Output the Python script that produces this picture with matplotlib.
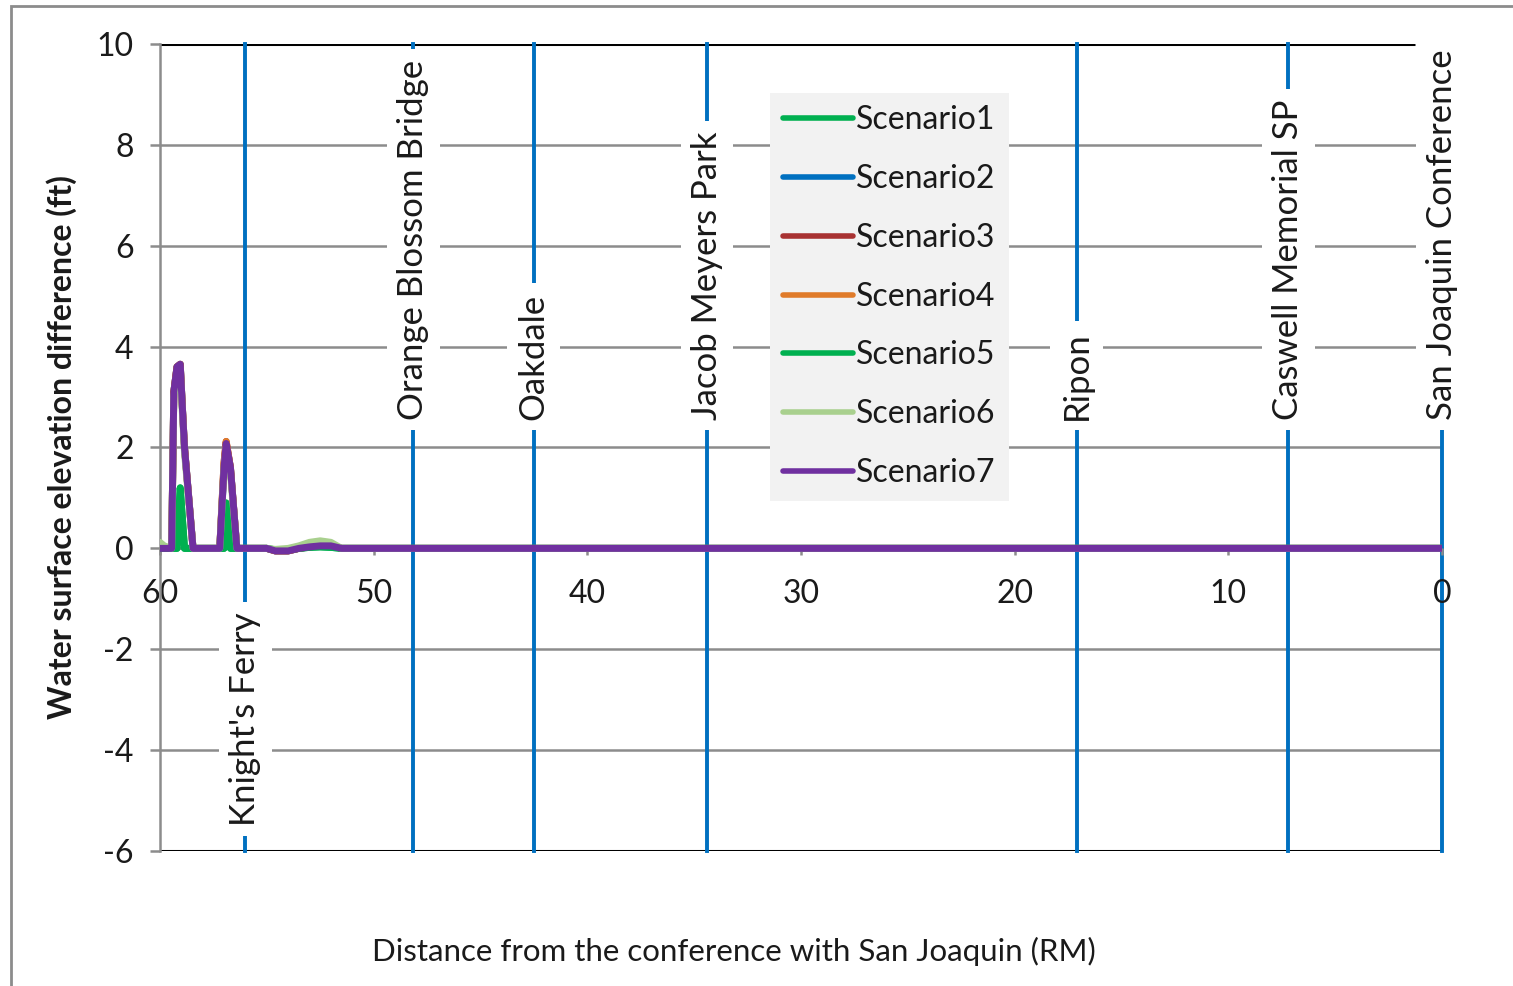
import numpy as np
import matplotlib
matplotlib.use("Agg")
import matplotlib.pyplot as plt
from matplotlib.patches import Rectangle

plt.rcParams['font.family'] = ['Lato', 'DejaVu Sans']
plt.rcParams['axes.unicode_minus'] = False

# river mile (distance from the confluence), shared by all scenarios
river_mile = [60.0, 59.8, 59.45, 59.35, 59.2, 59.05, 58.95, 58.85, 58.45, 58.0,
              57.5, 57.2, 57.0, 56.9, 56.7, 56.4, 56.0, 55.0, 54.6, 54.0,
              53.5, 53.0, 52.5, 52.0, 51.5, 40.0, 20.0, 0.0]

scenario1 = [0.0, 0.0, 0.0, 0.0, 0.0, 1.2, 0.6, 0.0, 0.0, 0.0,
             0.0, 0.0, 0.0, 0.9, 0.0, 0.0, 0.0, 0.0, -0.03, -0.03,
             0.0, 0.02, 0.03, 0.02, 0.0, 0.0, 0.0, 0.0]
scenario2 = [0.0, 0.0, 0.0, 3.1, 3.6, 3.65, 2.8, 2.0, 0.0, 0.0,
             0.0, 0.0, 1.6, 2.08, 1.6, 0.0, 0.0, 0.0, -0.05, -0.05,
             0.0, 0.03, 0.05, 0.05, 0.0, 0.0, 0.0, 0.0]
scenario3 = [0.0, 0.0, 0.0, 3.1, 3.6, 3.65, 2.8, 2.0, 0.0, 0.0,
             0.0, 0.0, 1.7, 2.12, 1.6, 0.0, 0.0, 0.0, -0.05, -0.05,
             0.0, 0.03, 0.05, 0.05, 0.0, 0.0, 0.0, 0.0]
scenario4 = [0.0, 0.0, 0.0, 3.1, 3.6, 3.65, 2.8, 2.0, 0.0, 0.0,
             0.0, 0.0, 1.7, 2.12, 1.6, 0.0, 0.0, 0.0, -0.05, -0.05,
             0.0, 0.03, 0.05, 0.05, 0.0, 0.0, 0.0, 0.0]
scenario5 = [0.0, 0.0, 0.0, 0.0, 0.0, 1.2, 0.6, 0.0, 0.0, 0.0,
             0.0, 0.0, 0.0, 0.9, 0.0, 0.0, 0.0, 0.0, -0.03, -0.03,
             0.0, 0.02, 0.03, 0.02, 0.0, 0.0, 0.0, 0.0]
scenario6 = [0.12, 0.05, 0.0, 3.0, 3.5, 3.55, 2.7, 1.9, 0.0, 0.0,
             0.0, 0.0, 1.6, 2.0, 1.5, 0.0, 0.0, 0.0, -0.02, 0.0,
             0.05, 0.12, 0.15, 0.12, 0.0, 0.0, 0.0, 0.0]
scenario7 = [0.0, 0.0, 0.0, 3.1, 3.6, 3.65, 2.8, 2.0, 0.0, 0.0,
             0.0, 0.0, 1.6, 2.08, 1.6, 0.0, 0.0, 0.0, -0.05, -0.05,
             0.0, 0.03, 0.05, 0.05, 0.0, 0.0, 0.0, 0.0]

scenario_names = ['Scenario1', 'Scenario2', 'Scenario3', 'Scenario4',
                  'Scenario5', 'Scenario6', 'Scenario7']
scenario_colors = ['#00b050', '#0070c0', '#a83232', '#e07b2a',
                   '#00b050', '#a9d08e', '#7030a0']

# landmarks along the river and where their labels sit
landmark_names = ["Knight's Ferry", 'Orange Blossom Bridge', 'Oakdale',
                  'Jacob Meyers Park', 'Ripon', 'Caswell Memorial SP',
                  'San Joaquin Conference']
landmark_rm = [56.0, 48.15, 42.5, 34.4, 17.1, 7.2, 0.0]
landmark_label_y = [-5.5, 2.55, 2.55, 2.55, 2.55, 2.55, 2.55]

x_ticks = [60, 50, 40, 30, 20, 10, 0]
y_ticks = [-6, -4, -2, 0, 2, 4, 6, 8, 10]

text_color = '#1a1a1a'
grid_color = '#8c8c8c'

fig = plt.figure(figsize=(15.13, 9.86), dpi=100)
ax = fig.add_axes([0.1057, 0.1369, 0.8474, 0.8185])

ax.set_xlim(60, 0)
ax.set_ylim(-6, 10)

# gridlines (manual so they sit under the landmark lines)
for yv in y_ticks:
    if yv in (-6, 10):
        continue
    ax.axhline(yv, color=grid_color, lw=1.8, zorder=0.5)
ax.hlines(10, 60, 1.25, color='black', lw=2.2, zorder=0.6)
ax.axhline(-6, color='black', lw=2.2, zorder=0.6)

# landmark lines and labels
for name, rm, ly in zip(landmark_names, landmark_rm, landmark_label_y):
    ax.axvline(rm, color='#0070c0', lw=2.8, zorder=1, clip_on=False)
    ax.text(rm, ly, name, rotation=90, ha='center', va='bottom',
            fontsize=25, color=text_color, zorder=1.2,
            bbox=dict(boxstyle='square,pad=0.3', fc='white', ec='none'))

series = [scenario1, scenario2, scenario3, scenario4,
          scenario5, scenario6, scenario7]
for name, col, ys in zip(scenario_names, scenario_colors, series):
    ax.plot(river_mile, ys, color=col, lw=5, label=name, zorder=3,
            solid_joinstyle='round', solid_capstyle='round')

# axes styling
for side in ('top', 'right'):
    ax.spines[side].set_visible(False)
ax.spines['left'].set_color(grid_color)
ax.spines['left'].set_linewidth(1.8)
ax.spines['bottom'].set_position(('data', 0))
ax.spines['bottom'].set_color(grid_color)
ax.spines['bottom'].set_linewidth(1.8)
ax.spines['bottom'].set_zorder(0.5)

ax.set_xticks(x_ticks)
ax.set_yticks(y_ticks)
ax.tick_params(axis='y', direction='out', length=7, width=1.8,
               color=grid_color, labelsize=23, labelcolor=text_color, pad=12)
ax.tick_params(axis='x', direction='out', length=5, width=1.8,
               color=grid_color, labelsize=23, labelcolor=text_color, pad=17)
for lab in ax.get_xticklabels():
    lab.set_zorder(5)

ax.set_ylabel('Water surface elevation difference (ft)', fontsize=23,
              fontweight='bold', color=text_color, labelpad=14)
fig.text(0.485, 0.035, 'Distance from the conference with San Joaquin (RM)',
         ha='center', va='center', fontsize=22.5, color=text_color)

leg = ax.legend(loc='upper left', bbox_to_anchor=(0.509, 0.906),
                bbox_transform=fig.transFigure, fontsize=23, frameon=True,
                fancybox=False, handlelength=2.2, handletextpad=0.1,
                labelspacing=0.9, borderpad=0.4, borderaxespad=0)
leg.get_frame().set_facecolor('#f2f2f2')
leg.get_frame().set_edgecolor('none')
leg.get_frame().set_alpha(1)
for txt in leg.get_texts():
    txt.set_color(text_color)
for ln in leg.get_lines():
    ln.set_linewidth(4)

# outer chart border
fig.add_artist(Rectangle((11 / 1513, -0.1), 1.2, 1.1 - 6 / 986,
                         transform=fig.transFigure, fill=False,
                         ec='#8c8c8c', lw=2))

fig.savefig('out.png', dpi=100)
